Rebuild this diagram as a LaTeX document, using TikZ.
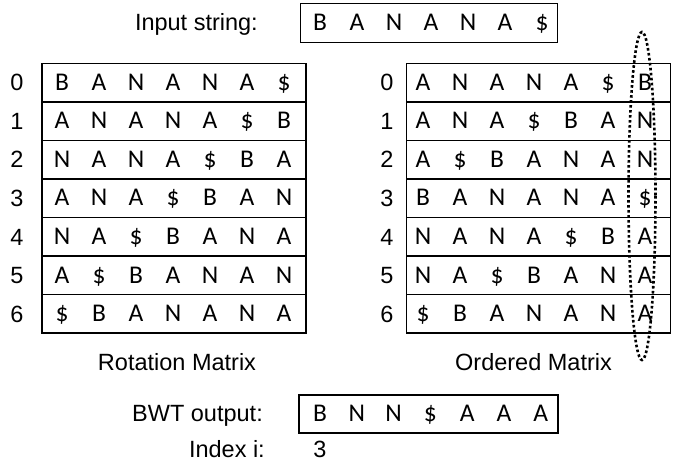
\documentclass[tikz,border=0pt]{standalone}
\usepackage{fontspec}
\setmainfont{Liberation Sans}
\newfontfamily\cellfont{Carlito}

\tikzset{
  lbl/.style={font=\fontsize{23.5}{28}\selectfont, inner sep=0pt, anchor=base},
  chr/.style={font=\cellfont\fontsize{25.5}{30}\selectfont, inner sep=0pt, anchor=base},
  box/.style={draw, line width=1.1pt},
  dotline/.style={line width=2.6pt, dash pattern=on 2.6pt off 2.4pt},
}

\begin{document}
\begin{tikzpicture}[x=1pt,y=-1pt]
\useasboundingbox (0,0) rectangle (680,473);

% input string
\node [lbl, anchor=base east] (inlbl) at (258,30.5) {Input string:};
\draw [box] (300.5,3.5) rectangle (557.5,42.5);
\foreach \l [count=\k from 0] in {B,A,N,A,N,A,\$}
  \node [chr] (in\k) at ({320+37*\k},30.5) {\l};

% rotation matrix
\foreach \i/\a/\b/\c/\d/\e/\f/\g in {0/B/A/N/A/N/A/\$, 1/A/N/A/N/A/\$/B, 2/N/A/N/A/\$/B/A, 3/A/N/A/\$/B/A/N, 4/N/A/\$/B/A/N/A, 5/A/\$/B/A/N/A/N, 6/\$/B/A/N/A/N/A}{
  \draw [box] (42,{63.5+38.5*\i}) rectangle ++(264,38.5);
  \node [lbl] (rn\i) at (17,{91+38.5*\i}) {\i};
  \foreach \l [count=\k from 0] in {\a,\b,\c,\d,\e,\f,\g}
    \node [chr] (r\i\k) at ({62+37*\k},{90.5+38.5*\i}) {\l};
}
\node [lbl] (rotlbl) at (177,370) {Rotation Matrix};

% ordered matrix
\foreach \i/\a/\b/\c/\d/\e/\f/\g in {0/A/N/A/N/A/\$/B, 1/A/N/A/\$/B/A/N, 2/A/\$/B/A/N/A/N, 3/B/A/N/A/N/A/\$, 4/N/A/N/A/\$/B/A, 5/N/A/\$/B/A/N/A, 6/\$/B/A/N/A/N/A}{
  \draw [box] (406.7,{63.5+38.5*\i}) rectangle ++(264,38.5);
  \node [lbl] (on\i) at (387,{91+38.5*\i}) {\i};
  \foreach \l [count=\k from 0] in {\a,\b,\c,\d,\e,\f,\g}
    \node [chr] (o\i\k) at ({423+37*\k},{90.5+38.5*\i}) {\l};
}
\node [lbl] (ordlbl) at (533.5,370) {Ordered Matrix};

% last column
\draw [dotline] (642,196) ellipse [x radius=13.5, y radius=164];

% output
\node [lbl, anchor=base east] (bwtlbl) at (263,421.5) {BWT output:};
\draw [box] (299,395) rectangle (558,433);
\foreach \l [count=\k from 0] in {B,N,N,\$,A,A,A}
  \node [chr] (bwt\k) at ({320+36.8*\k},421.5) {\l};
\node [lbl, anchor=base east] (idxlbl) at (265,457) {Index i:};
\node [lbl] (idx) at (320,457) {3};

\end{tikzpicture}
\end{document}
